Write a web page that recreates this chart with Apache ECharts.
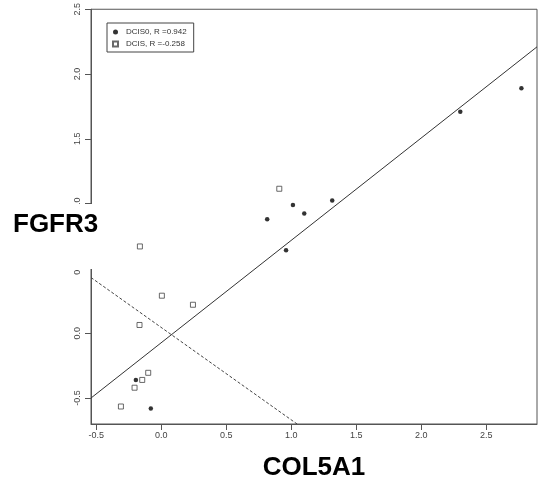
<!DOCTYPE html>
<html>
<head>
<meta charset="utf-8">
<script src="https://cdn.jsdelivr.net/npm/echarts@6/dist/echarts.min.js"></script>
<style>
html,body{margin:0;padding:0;background:#fff;}
#c{width:542px;height:488px;}
</style>
</head>
<body>
<div id="c"></div>
<script>
// Data
var dcis0Name = 'DCIS0, R =0.942';
var dcisName = 'DCIS, R =-0.258';
var dcis0X = [0.815, 1.013, 1.10, 0.96, 1.315, 2.30, 2.77, -0.195, -0.08];
var dcis0Y = [0.88, 0.99, 0.925, 0.64, 1.025, 1.71, 1.89, -0.36, -0.58];
var dcisX = [0.908, -0.164, 0.005, 0.244, -0.167, -0.10, -0.146, -0.205, -0.31];
var dcisY = [1.115, 0.67, 0.29, 0.22, 0.064, -0.305, -0.36, -0.42, -0.565];
// fitted lines: [intercept, slope]
var dcis0Fit = [-0.073, 0.79];
var dcisFit = [0.045, -0.713];
var xTicks = [-0.5, 0.0, 0.5, 1.0, 1.5, 2.0, 2.5];
var yTicks = [-0.5, 0.0, 0.5, 1.0, 1.5, 2.0, 2.5];
var xRange = [-0.54, 2.89];
var yRange = [-0.70, 2.5];
var xTitle = 'COL5A1';
var yTitle = 'FGFR3';

function pairs(xs, ys){ return xs.map(function(x,i){ return [x, ys[i]]; }); }
function fitLine(f){ return xRange.map(function(x){ return [x, f[0] + f[1]*x]; }); }

var chart = echarts.init(document.getElementById('c'), null, {renderer:'canvas'});
var tickColor = '#555';
var option = {
  animation: false,
  backgroundColor: '#fff',
  grid: {left: 91, right: 5, top: 8, bottom: 64, show: true, borderColor: '#555', borderWidth: 1, backgroundColor: 'transparent'},
  legend: {
    left: 107, top: 23, orient: 'vertical',
    borderColor: '#444', borderWidth: 1, borderRadius: 0,
    padding: [5, 7, 4, 5], itemGap: 4, itemWidth: 5, itemHeight: 5,
    textStyle: {fontSize: 8, color: '#333', fontFamily: 'Liberation Sans, Arial', padding: [0, 0, 0, 3]},
    data: [dcis0Name, dcisName]
  },
  xAxis: {
    type: 'value', min: xRange[0], max: xRange[1],
    splitLine: {show: false},
    axisLine: {show: true, onZero: false, lineStyle: {color: '#555'}},
    axisTick: {show: true, length: 6, customValues: xTicks, lineStyle: {color: tickColor}},
    axisLabel: {show: true, customValues: xTicks, fontSize: 9, color: '#444', margin: 7,
      fontFamily: 'Liberation Sans, Arial', formatter: function(v){ return v.toFixed(1); }}
  },
  yAxis: {
    type: 'value', min: yRange[0], max: yRange[1],
    splitLine: {show: false},
    axisLine: {show: true, onZero: false, lineStyle: {color: '#555'}},
    axisTick: {show: true, length: 6, customValues: yTicks, lineStyle: {color: tickColor}},
    axisLabel: {show: true, customValues: yTicks, fontSize: 9, color: '#444', margin: 9, rotate: 90,
      fontFamily: 'Liberation Sans, Arial', formatter: function(v){ return v.toFixed(1); }}
  },
  series: [
    {
      name: dcis0Name + ' fit', type: 'line', data: fitLine(dcis0Fit), symbol: 'none', clip: true,
      lineStyle: {color: '#333', width: 1}, z: 2
    },
    {
      name: dcisName + ' fit', type: 'line', data: fitLine(dcisFit), symbol: 'none', clip: true,
      lineStyle: {color: '#444', width: 1, type: [3, 2]}, z: 2
    },
    {
      name: dcis0Name, type: 'scatter', data: pairs(dcis0X, dcis0Y), symbol: 'circle', symbolSize: 4.5,
      itemStyle: {color: '#000'}, z: 3
    },
    {
      name: dcisName, type: 'scatter', data: pairs(dcisX, dcisY), symbol: 'rect', symbolSize: 5,
      itemStyle: {color: '#fff', borderColor: '#444', borderWidth: 1}, z: 3
    }
  ],
  graphic: [
    {type: 'rect', z: 100, shape: {x: 0, y: 204, width: 101, height: 65}, style: {fill: '#fff'}},
    {type: 'text', z: 101, left: 13, top: 212, style: {text: yTitle, fontSize: 26, fontWeight: 'bold', fill: '#000', fontFamily: 'Liberation Sans, Arial'}},
    {type: 'text', z: 101, x: 314, y: 468, style: {text: xTitle, fontSize: 26, fontWeight: 'bold', fill: '#000', align: 'center', verticalAlign: 'middle', fontFamily: 'Liberation Sans, Arial'}}
  ]
};
chart.setOption(option);
</script>
</body>
</html>
